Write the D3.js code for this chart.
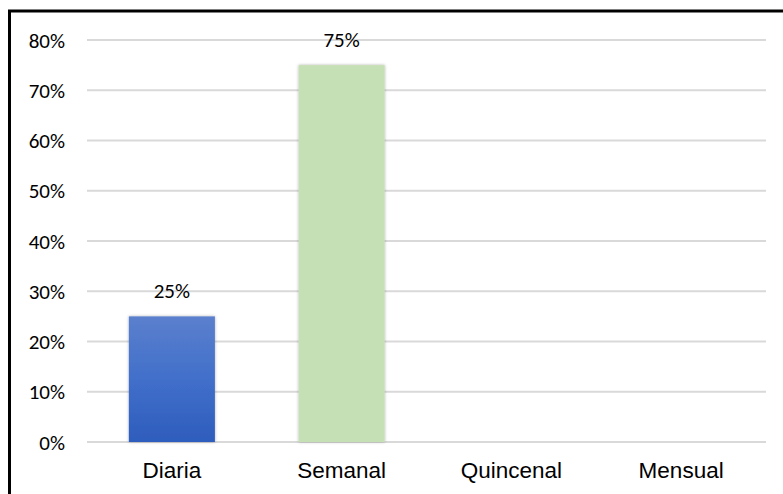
<!DOCTYPE html>
<html>
<head>
<meta charset="utf-8">
<script src="https://cdn.jsdelivr.net/npm/d3@7"></script>
<style>
  body { margin: 0; background: #fff; }
  svg { display: block; }
</style>
</head>
<body>
<svg id="chart"></svg>
<script>
const categories = ["Diaria", "Semanal", "Quincenal", "Mensual"];
const values = [0.25, 0.75, 0, 0];
const yTicks = [0, 0.1, 0.2, 0.3, 0.4, 0.5, 0.6, 0.7, 0.8];

const W = 783, H = 494;
const svg = d3.select("#chart").attr("width", W).attr("height", H);

// gradient + shadow defs
const defs = svg.append("defs");
const grad = defs.append("linearGradient")
  .attr("id", "blueGrad").attr("x1", 0).attr("y1", 0).attr("x2", 0).attr("y2", 1);
grad.append("stop").attr("offset", "0%").attr("stop-color", "#5b80cd");
grad.append("stop").attr("offset", "50%").attr("stop-color", "#416fca");
grad.append("stop").attr("offset", "100%").attr("stop-color", "#2e5dbd");
const shadow = defs.append("filter").attr("id", "shadow")
  .attr("x", "-20%").attr("y", "-20%").attr("width", "140%").attr("height", "140%");
shadow.append("feDropShadow")
  .attr("dx", 0).attr("dy", 0).attr("stdDeviation", 1.5)
  .attr("flood-color", "#000").attr("flood-opacity", 0.3);

const fills = ["url(#blueGrad)", "#c5e0b4", "#a5a5a5", "#ffc000"];

// outer border (right/bottom edges sit outside the frame)
svg.append("rect")
  .attr("x", 9.5).attr("y", 11)
  .attr("width", W + 10).attr("height", H + 10)
  .attr("fill", "none").attr("stroke", "#000").attr("stroke-width", 3);

// scales
const x = d3.scaleBand().domain(categories).range([87, 766])
  .paddingInner(0.493).paddingOuter(0.2465);
const y = d3.scaleLinear().domain([0, 0.8]).range([442, 40]);

// gridlines
svg.append("g")
  .selectAll("line")
  .data(yTicks)
  .enter()
  .append("line")
  .attr("x1", 87).attr("x2", 766)
  .attr("y1", (d) => y(d)).attr("y2", (d) => y(d))
  .attr("stroke", "#d9d9d9").attr("stroke-width", 2);

// y axis labels
const yAxis = d3.axisLeft(y).tickValues(yTicks)
  .tickFormat(d3.format(".0%")).tickSize(0).tickPadding(0);
const yg = svg.append("g").attr("transform", "translate(65,0)").call(yAxis);
yg.select(".domain").remove();
yg.selectAll("text")
  .attr("font-family", "Carlito, Lato, sans-serif")
  .attr("font-size", 21)
  .attr("fill", "#000")
  .attr("dy", "0.34em");

// x axis labels
const xAxis = d3.axisBottom(x).tickSize(0).tickPadding(0);
const xg = svg.append("g").attr("transform", "translate(0,478)").call(xAxis);
xg.select(".domain").remove();
xg.selectAll("text")
  .attr("font-family", "'Liberation Sans', Arial, sans-serif")
  .attr("font-size", 22.5)
  .attr("fill", "#000")
  .attr("dy", 0);

// bars
svg.append("g")
  .selectAll("rect")
  .data(values)
  .enter()
  .filter((d) => d > 0)
  .append("rect")
  .attr("x", (d) => x(categories[values.indexOf(d)]))
  .attr("y", (d) => y(d))
  .attr("width", x.bandwidth())
  .attr("height", (d) => y(0) - y(d))
  .attr("fill", (d) => fills[values.indexOf(d)])
  .attr("filter", "url(#shadow)");

// value labels
svg.append("g")
  .selectAll("text")
  .data(values)
  .enter()
  .filter((d) => d > 0)
  .append("text")
  .attr("x", (d) => x(categories[values.indexOf(d)]) + x.bandwidth() / 2)
  .attr("y", (d) => y(d) - 18)
  .attr("text-anchor", "middle")
  .attr("font-family", "Carlito, Lato, sans-serif")
  .attr("font-size", 21)
  .attr("fill", "#000")
  .text((d) => d3.format(".0%")(d));
</script>
</body>
</html>
